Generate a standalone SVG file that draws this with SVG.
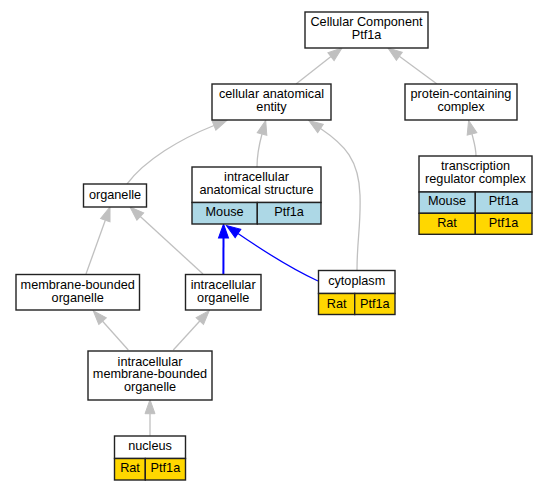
<svg xmlns="http://www.w3.org/2000/svg" width="548" height="491" viewBox="0 0 548 491">
<style>
text{font-family:"Liberation Sans",Arial,sans-serif;font-size:12.7px;fill:#000;text-anchor:middle}
.b{fill:#fff;stroke:#222;stroke-width:1.4}
.m{fill:#add8e6;stroke:#222;stroke-width:1.4}
.r{fill:#ffd700;stroke:#222;stroke-width:1.4}
.e{fill:none;stroke:#c0c0c0;stroke-width:1.3;marker-end:url(#ag)}
.eb{fill:none;stroke:#0000ff;stroke-width:1.3;marker-end:url(#ab)}
</style>
<defs>
<marker id="ag" markerUnits="userSpaceOnUse" markerWidth="15" markerHeight="11" refX="0" refY="5" orient="auto" overflow="visible"><path d="M0,0 L14,5 L0,10 z" fill="#c0c0c0" stroke="#c0c0c0"/></marker>
<marker id="ab" markerUnits="userSpaceOnUse" markerWidth="15" markerHeight="11" refX="0" refY="5" orient="auto" overflow="visible"><path d="M0,0 L14,5 L0,10 z" fill="#0000ff" stroke="#0000ff"/></marker>
</defs>
<g id="edges">
<path class="e" d="M296,84 L331,56.6"/>
<path class="e" d="M437,84 L399.3,56.3"/>
<path class="e" d="M476,156 C476,148 474,142 472,134"/>
<path class="e" d="M257,167 C257,155 259,145 262,134"/>
<path class="e" d="M127,184 C145,160 180,139 214,125.5"/>
<path class="e" d="M357,270 C357,240 361,225 360,195 C359,160 345,145 320.5,128.5"/>
<path class="e" d="M86,274 L105.3,220.2"/>
<path class="e" d="M203,274 L140.3,216.5"/>
<path class="eb" style="stroke-width:2" d="M223.4,274 L223.5,238"/>
<path class="eb" d="M318,281 C290,268 262,250 238,233.5"/>
<path class="e" d="M128.3,350 L102.6,321.2"/>
<path class="e" d="M173.3,350 L199.8,321"/>
<path class="e" d="M150,435.7 L150,413.7"/>
</g>
<g id="n_cc">
<rect class="b" x="305" y="12" width="123" height="36"/>
<text x="366.5" y="26.4">Cellular Component</text>
<text x="366.5" y="39.1">Ptf1a</text>
</g>
<g id="n_cae">
<rect class="b" x="212" y="84" width="119" height="36"/>
<text x="271.5" y="98.4">cellular anatomical</text>
<text x="271.5" y="111.1">entity</text>
</g>
<g id="n_pcc">
<rect class="b" x="405" y="84" width="112" height="36"/>
<text x="461" y="98.4">protein-containing</text>
<text x="461" y="111.1">complex</text>
</g>
<g id="n_trc">
<rect class="b" x="419" y="156" width="113" height="36"/>
<text x="475.5" y="170">transcription</text>
<text x="475.5" y="183.2">regulator complex</text>
<rect class="m" x="419" y="192" width="56.3" height="21.3"/>
<rect class="m" x="475.3" y="192" width="56.7" height="21.3"/>
<text x="447" y="205.2">Mouse</text>
<text x="503.5" y="205.2">Ptf1a</text>
<rect class="r" x="419" y="213.3" width="56.3" height="21"/>
<rect class="r" x="475.3" y="213.3" width="56.7" height="21"/>
<text x="447" y="226.7">Rat</text>
<text x="503.5" y="226.7">Ptf1a</text>
</g>
<g id="n_org">
<rect class="b" x="83.5" y="184" width="63" height="23"/>
<text x="115" y="198.5">organelle</text>
</g>
<g id="n_ias">
<rect class="b" x="192" y="167" width="129" height="35.5"/>
<text x="256.5" y="181">intracellular</text>
<text x="256.5" y="193.7">anatomical structure</text>
<rect class="m" x="192" y="202.5" width="65.3" height="21.5"/>
<rect class="m" x="257.3" y="202.5" width="63.7" height="21.5"/>
<text x="224.6" y="216">Mouse</text>
<text x="289" y="216">Ptf1a</text>
</g>
<g id="n_mbo">
<rect class="b" x="16" y="274.5" width="123.5" height="35.5"/>
<text x="77.7" y="289.3">membrane-bounded</text>
<text x="77.7" y="301.8">organelle</text>
</g>
<g id="n_io">
<rect class="b" x="185.5" y="274.5" width="75.5" height="35.5"/>
<text x="223.2" y="289.3">intracellular</text>
<text x="223.2" y="301.8">organelle</text>
</g>
<g id="n_cyto">
<rect class="b" x="318.5" y="270.5" width="76.5" height="23"/>
<text x="356.7" y="285">cytoplasm</text>
<rect class="r" x="318.5" y="293.5" width="36.2" height="21"/>
<rect class="r" x="354.7" y="293.5" width="40.3" height="21"/>
<text x="336.6" y="308">Rat</text>
<text x="374.8" y="308">Ptf1a</text>
</g>
<g id="n_imbo">
<rect class="b" x="88" y="351" width="124" height="49"/>
<text x="150" y="365.5">intracellular</text>
<text x="150" y="378.2">membrane-bounded</text>
<text x="150" y="390.9">organelle</text>
</g>
<g id="n_nuc">
<rect class="b" x="114.5" y="436" width="71" height="22.5"/>
<text x="150" y="450">nucleus</text>
<rect class="r" x="114.5" y="458.5" width="30.8" height="21.5"/>
<rect class="r" x="145.3" y="458.5" width="40.2" height="21.5"/>
<text x="130" y="471.8">Rat</text>
<text x="165.4" y="471.8">Ptf1a</text>
</g>
</svg>
